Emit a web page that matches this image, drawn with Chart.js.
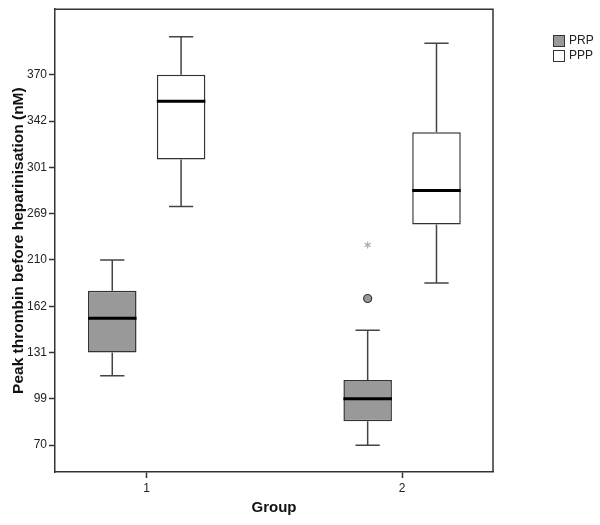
<!DOCTYPE html>
<html>
<head>
<meta charset="utf-8">
<script src="https://cdn.jsdelivr.net/npm/chart.js@4.4.0/dist/chart.umd.min.js"></script>
<style>
  html, body { margin: 0; padding: 0; background: #fff; }
  #wrap { width: 600px; height: 525px; }
</style>
</head>
<body>
<div id="wrap"><canvas id="boxChart"></canvas></div>
<script>
var groups = [1, 2];
var yTickLabels = [70, 99, 131, 162, 210, 269, 301, 342, 370];

// [min, q1, median, q3, max] per group, nM
var prpStats = [[115, 131, 154, 178, 210], [70, 85, 99, 112, 146]];
var pppStats = [[274, 308, 354, 370, 393], [186, 255, 285, 332, 389]];

// outliers (circle) and extremes (star) per group
var prpOutliers = [[], [170]];
var prpExtremes = [[], [229]];
var pppOutliers = [[], []];
var pppExtremes = [[], []];

var seriesNames = ["PRP", "PPP"];
var seriesColors = ["#999999", "#ffffff"];

// the axis spaces its labels evenly, so map nM onto label positions
function toAxis(v) {
  var L = yTickLabels;
  var i = 0;
  while (i < L.length - 2 && v > L[i + 1]) i++;
  return i + (v - L[i]) / (L[i + 1] - L[i]);
}

var allStats = [prpStats, pppStats];
var allOutliers = [prpOutliers, pppOutliers];
var allExtremes = [prpExtremes, pppExtremes];

function boxData(stats) {
  return stats.map(function (s, i) {
    return { x: groups[i], y: [toAxis(s[1]), toAxis(s[3])] };
  });
}

var boxPlotPlugin = {
  id: "boxPlot",
  afterDatasetsDraw: function (chart) {
    var ctx = chart.ctx;
    var y = chart.scales.y;
    var area = chart.chartArea;
    ctx.save();

    allStats.forEach(function (stats, d) {
      var meta = chart.getDatasetMeta(d);
      meta.data.forEach(function (bar, j) {
        var s = stats[j];
        var cx = bar.x;
        var w = bar.width;
        var yMin = y.getPixelForValue(toAxis(s[0]));
        var yQ1 = y.getPixelForValue(toAxis(s[1]));
        var yMed = y.getPixelForValue(toAxis(s[2]));
        var yQ3 = y.getPixelForValue(toAxis(s[3]));
        var yMax = y.getPixelForValue(toAxis(s[4]));

        // whiskers + caps
        ctx.strokeStyle = "#444";
        ctx.lineWidth = 1.5;
        ctx.beginPath();
        ctx.moveTo(cx, yQ3); ctx.lineTo(cx, yMax);
        ctx.moveTo(cx, yQ1); ctx.lineTo(cx, yMin);
        ctx.moveTo(cx - w / 4, yMax); ctx.lineTo(cx + w / 4, yMax);
        ctx.moveTo(cx - w / 4, yMin); ctx.lineTo(cx + w / 4, yMin);
        ctx.stroke();

        // median
        ctx.strokeStyle = "#000";
        ctx.lineWidth = 3;
        ctx.beginPath();
        ctx.moveTo(cx - w / 2, yMed); ctx.lineTo(cx + w / 2, yMed);
        ctx.stroke();

        // outliers
        allOutliers[d][j].forEach(function (v) {
          var py = y.getPixelForValue(toAxis(v));
          ctx.beginPath();
          ctx.arc(cx, py, 4, 0, Math.PI * 2);
          ctx.fillStyle = "#999";
          ctx.fill();
          ctx.strokeStyle = "#333";
          ctx.lineWidth = 1.2;
          ctx.stroke();
        });

        // extremes
        allExtremes[d][j].forEach(function (v) {
          var py = y.getPixelForValue(toAxis(v));
          ctx.strokeStyle = "#aaa";
          ctx.lineWidth = 1.2;
          ctx.beginPath();
          for (var k = 0; k < 3; k++) {
            var a = Math.PI / 2 + k * Math.PI / 3;
            ctx.moveTo(cx - 3.5 * Math.cos(a), py - 3.5 * Math.sin(a));
            ctx.lineTo(cx + 3.5 * Math.cos(a), py + 3.5 * Math.sin(a));
          }
          ctx.stroke();
        });
      });
    });

    // top and right frame
    ctx.strokeStyle = "#333";
    ctx.lineWidth = 1.5;
    ctx.beginPath();
    ctx.moveTo(area.left, area.top);
    ctx.lineTo(area.right, area.top);
    ctx.lineTo(area.right, area.bottom);
    ctx.stroke();

    // legend
    ctx.font = "12px 'Liberation Sans', Arial, sans-serif";
    ctx.textBaseline = "middle";
    ctx.textAlign = "left";
    seriesNames.forEach(function (name, i) {
      var bx = 553, by = 35 + i * 15;
      ctx.fillStyle = seriesColors[i];
      ctx.fillRect(bx, by, 11, 11);
      ctx.strokeStyle = "#333";
      ctx.lineWidth = 1;
      ctx.strokeRect(bx + 0.5, by + 0.5, 11, 11);
      ctx.fillStyle = "#222";
      ctx.fillText(name, 569, by + 6);
    });

    ctx.restore();
  }
};

new Chart(document.getElementById("boxChart"), {
  type: "bar",
  data: {
    datasets: [
      {
        label: seriesNames[0],
        data: boxData(prpStats),
        backgroundColor: seriesColors[0],
        borderColor: "#333",
        borderWidth: 1.5,
        borderSkipped: false,
      },
      {
        label: seriesNames[1],
        data: boxData(pppStats),
        backgroundColor: seriesColors[1],
        borderColor: "#333",
        borderWidth: 1.5,
        borderSkipped: false,
      },
    ],
  },
  options: {
    responsive: true,
    maintainAspectRatio: false,
    animation: false,
    categoryPercentage: 0.539,
    barPercentage: 0.705,
    layout: {
      padding: { top: 6, right: 107, left: 0, bottom: 0 },
    },
    plugins: {
      legend: { display: false },
      tooltip: { enabled: false },
    },
    scales: {
      x: {
        type: "linear",
        offset: false,
        min: 0.641,
        max: 2.356,
        afterBuildTicks: function (axis) {
          axis.ticks = groups.map(function (g) { return { value: g }; });
        },
        ticks: {
          font: { family: "'Liberation Sans', Arial, sans-serif", size: 12 },
          color: "#222",
          padding: 3,
        },
        grid: {
          display: true,
          offset: false,
          drawOnChartArea: false,
          drawTicks: true,
          tickLength: 6,
          tickWidth: 1.5,
          tickColor: "#333",
        },
        border: { display: true, color: "#333", width: 1.5 },
        title: {
          display: true,
          text: "Group",
          font: { family: "'Liberation Sans', Arial, sans-serif", size: 15, weight: "bold" },
          color: "#111",
          padding: { top: 0, bottom: 8 },
        },
        afterFit: function (axis) { axis.height = 53; },
      },
      y: {
        type: "linear",
        min: -0.58,
        max: 9.415,
        afterBuildTicks: function (axis) {
          axis.ticks = yTickLabels.map(function (v, i) { return { value: i }; });
        },
        ticks: {
          callback: function (value) { return yTickLabels[value]; },
          font: { family: "'Liberation Sans', Arial, sans-serif", size: 12 },
          color: "#222",
          padding: 2,
        },
        grid: {
          display: true,
          drawOnChartArea: false,
          drawTicks: true,
          tickLength: 6,
          tickWidth: 1.5,
          tickColor: "#333",
        },
        border: { display: true, color: "#333", width: 1.5 },
        title: {
          display: true,
          text: "Peak thrombin before heparinisation (nM)",
          font: { family: "'Liberation Sans', Arial, sans-serif", size: 15.5, weight: "bold" },
          color: "#111",
          padding: { top: 9, bottom: 0 },
        },
        afterFit: function (axis) { axis.width = 55; },
      },
    },
  },
  plugins: [boxPlotPlugin],
});
</script>
</body>
</html>
